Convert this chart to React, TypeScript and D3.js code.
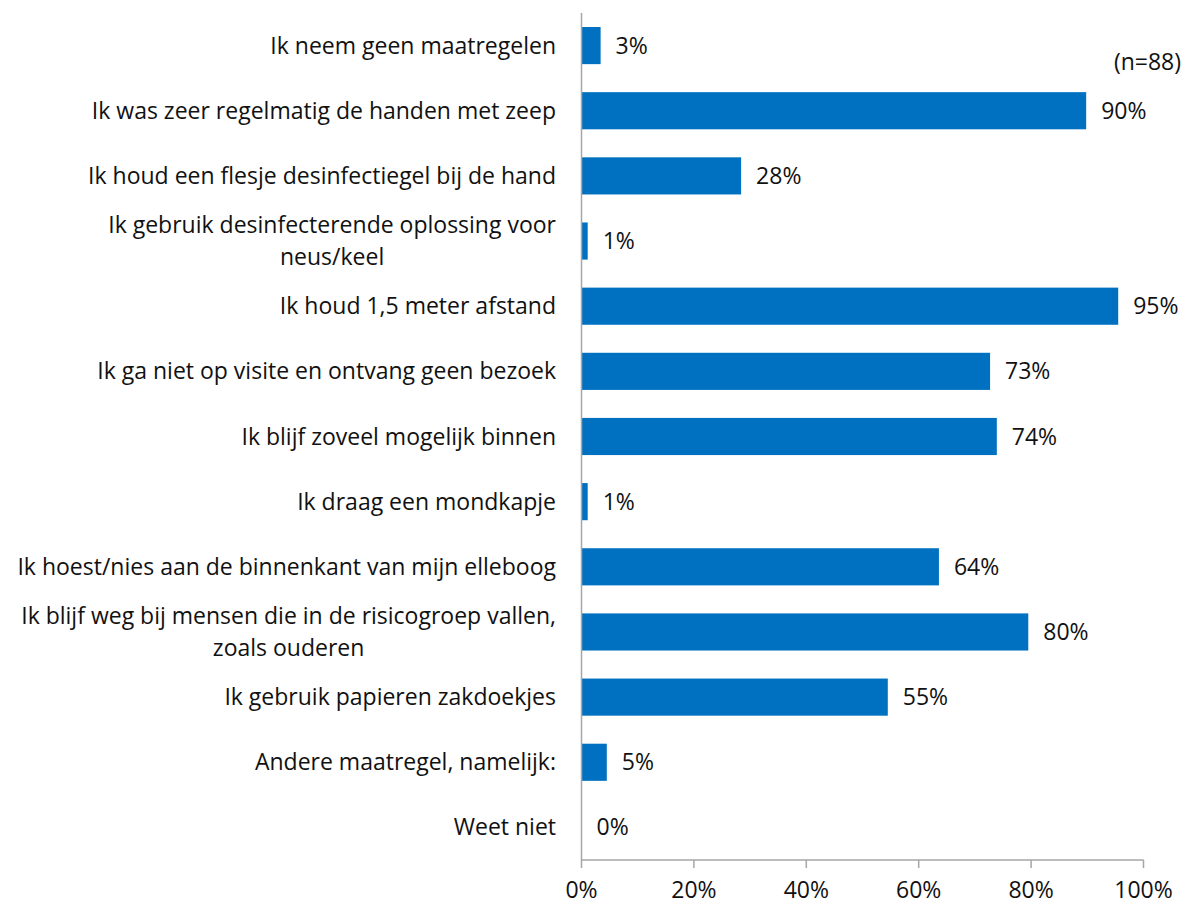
import React from "react";
import * as d3 from "d3";

const categories: string[][] = [
  ["Ik neem geen maatregelen"],
  ["Ik was zeer regelmatig de handen met zeep"],
  ["Ik houd een flesje desinfectiegel bij de hand"],
  ["Ik gebruik desinfecterende oplossing voor", "neus/keel"],
  ["Ik houd 1,5 meter afstand"],
  ["Ik ga niet op visite en ontvang geen bezoek"],
  ["Ik blijf zoveel mogelijk binnen"],
  ["Ik draag een mondkapje"],
  ["Ik hoest/nies aan de binnenkant van mijn elleboog"],
  ["Ik blijf weg bij mensen die in de risicogroep vallen,", "zoals ouderen"],
  ["Ik gebruik papieren zakdoekjes"],
  ["Andere maatregel, namelijk:"],
  ["Weet niet"],
];
const values: number[] = [3.4, 89.8, 28.4, 1.1, 95.5, 72.7, 73.9, 1.1, 63.6, 79.5, 54.5, 4.5, 0];
const valueLabels: string[] = ["3%", "90%", "28%", "1%", "95%", "73%", "74%", "1%", "64%", "80%", "55%", "5%", "0%"];
const tickValues: number[] = [0, 20, 40, 60, 80, 100];
const tickLabels: string[] = ["0%", "20%", "40%", "60%", "80%", "100%"];
const note = "(n=88)";

const W = 1189;
const H = 904;
const FONT = "'Open Sans', Lato, sans-serif";
const FS = 23;
const LABEL_RIGHT = 556;

function measure(text: string): number {
  if (typeof document === "undefined") return text.length * FS * 0.5;
  const c = document.createElement("canvas");
  const ctx = c.getContext("2d");
  if (!ctx) return text.length * FS * 0.5;
  ctx.font = `${FS}px 'Open Sans', Lato, sans-serif`;
  return ctx.measureText(text).width;
}

export default function App() {
  const x = d3.scaleLinear().domain([0, 100]).range([581.5, 1143.5]);
  const y = d3
    .scaleBand<number>()
    .domain(categories.map((_, i) => i))
    .range([13, 860])
    .paddingInner(0.43)
    .paddingOuter(0.215);
  const axisColor = "#A6A6A6";
  const barColor = "#0070C0";
  const textColor = "#111";
  const x0 = x(0);

  return (
    <svg
      width={W}
      height={H}
      style={{ position: "absolute", left: 0, top: 0, display: "block" }}
      fontFamily={FONT}
    >
      <rect x={0} y={0} width={W} height={H} fill="#fff" />
      {values.map((v, i) => {
        const yy = y(i)!;
        const bw = y.bandwidth();
        return (
          <g key={i}>
            {v > 0 && (
              <rect x={x0} y={yy} width={x(v) - x0} height={bw} fill={barColor} />
            )}
            <text
              x={x(v) + 15}
              y={yy + bw / 2}
              dy="0.35em"
              fontSize={FS}
              fill={textColor}
            >
              {valueLabels[i]}
            </text>
          </g>
        );
      })}
      {categories.map((lines, i) => {
        const cy = y(i)! + y.bandwidth() / 2;
        const lh = 32;
        const start = cy - ((lines.length - 1) * lh) / 2;
        if (lines.length === 1) {
          return (
            <text key={i} x={LABEL_RIGHT} y={cy} dy="0.35em" textAnchor="end" fontSize={FS} fill={textColor}>
              {lines[0]}
            </text>
          );
        }
        const w = measure(lines[0]);
        const center = LABEL_RIGHT - w / 2;
        return (
          <g key={i}>
            {lines.map((l, j) => (
              <text
                key={j}
                x={j === 0 ? LABEL_RIGHT : center}
                y={start + j * lh}
                dy="0.35em"
                textAnchor={j === 0 ? "end" : "middle"}
                fontSize={FS}
                fill={textColor}
              >
                {l}
              </text>
            ))}
          </g>
        );
      })}
      {/* axes */}
      <line x1={x0} x2={x0} y1={13} y2={860} stroke={axisColor} strokeWidth={1.5} />
      <line x1={x0} x2={x(100)} y1={860} y2={860} stroke={axisColor} strokeWidth={1.5} />
      {tickValues.map((t, i) => (
        <g key={t}>
          <line x1={x(t)} x2={x(t)} y1={860} y2={868} stroke={axisColor} strokeWidth={1.5} />
          <text x={x(t)} y={898} textAnchor="middle" fontSize={FS} fill={textColor}>
            {tickLabels[i]}
          </text>
        </g>
      ))}
      <text x={1181} y={62} dy="0.35em" textAnchor="end" fontSize={FS} fill={textColor}>
        {note}
      </text>
    </svg>
  );
}
